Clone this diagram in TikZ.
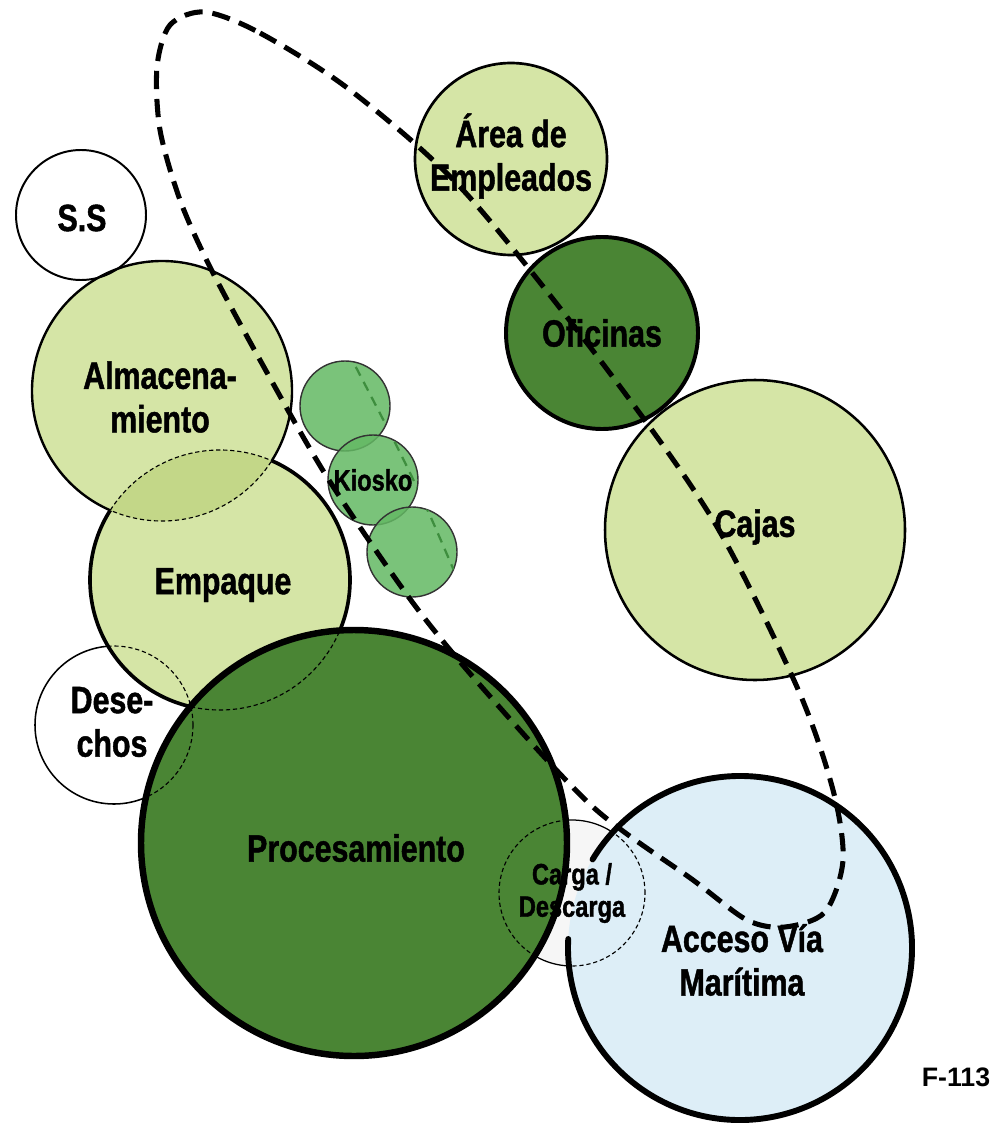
\documentclass[tikz,border=0pt]{standalone}
\usepackage{fontspec}
\setmainfont{Liberation Sans}
\newfontfamily\zonefont[FakeStretch=0.8, FakeBold=1.2]{Liberation Sans}
\definecolor{paleleaf}{HTML}{D5E5A6}
\definecolor{lensleaf}{HTML}{C3D788}
\definecolor{deepleaf}{HTML}{4A8534}
\definecolor{kioskleaf}{HTML}{63B863}
\definecolor{kioskline}{HTML}{3E8E3E}
\definecolor{seawater}{HTML}{DDEEF7}
\begin{document}
\begin{tikzpicture}[x=0.25mm, y=0.25mm,
  zone/.style={font=\zonefont\bfseries\fontsize{27}{31}\selectfont, align=center, inner sep=0pt},
  smallzone/.style={zone, font=\zonefont\bfseries\fontsize{21}{23}\selectfont},
  hidden/.style={line width=0.8pt, dash pattern=on 3pt off 2pt},
  route/.style={line width=3.6pt, dash pattern=on 13pt off 7pt}
]
  \useasboundingbox (0,0) rectangle (999,-1128);

  % centres of the zones
  \coordinate (ss) at (81,-215);
  \coordinate (alm) at (162,-391);
  \coordinate (emp) at (220,-580);
  \coordinate (des) at (114,-725);
  \coordinate (proc) at (354,-843);
  \coordinate (carga) at (572,-893);
  \coordinate (acc) at (740,-948);
  \coordinate (area) at (511,-159);
  \coordinate (ofi) at (602,-333);
  \coordinate (cajas) at (755,-530);
  \coordinate (kioA) at (345,-406);
  \coordinate (kioB) at (373,-480);
  \coordinate (kioC) at (412,-552);

  % fills
  \fill[gray!7] (carga) circle[radius=73];
  \fill[white] (des) circle[radius=79];
  \fill[paleleaf] (alm) circle[radius=130];
  \fill[paleleaf] (emp) circle[radius=130];
  \begin{scope}
    \clip (alm) circle[radius=130];
    \fill[lensleaf] (emp) circle[radius=130];
  \end{scope}
  \fill[deepleaf] (proc) circle[radius=213];
  \fill[seawater] (acc) circle[radius=172];
  \fill[paleleaf] (area) circle[radius=96];
  \fill[deepleaf] (ofi) circle[radius=96];
  \fill[paleleaf] (cajas) circle[radius=150];

  % outlines
  \draw[line width=1.4pt] (ss) circle[radius=65];
  \draw[line width=1.9pt] (area) circle[radius=96];
  \draw[line width=2.8pt] (ofi) circle[radius=96];
  \draw[line width=1.8pt] (cajas) circle[radius=150];

  \begin{scope}[even odd rule]
    \clip (0,0) rectangle (999,-1128) (emp) circle[radius=130];
    \draw[line width=1.7pt] (alm) circle[radius=130];
  \end{scope}
  \begin{scope}
    \clip (emp) circle[radius=130];
    \draw[hidden] (alm) circle[radius=130];
  \end{scope}

  \begin{scope}[even odd rule]
    \clip (0,0) rectangle (999,-1128) (alm) circle[radius=130];
    \clip (0,0) rectangle (999,-1128) (proc) circle[radius=213];
    \draw[line width=2.6pt] (emp) circle[radius=130];
  \end{scope}
  \begin{scope}
    \clip (alm) circle[radius=130] (proc) circle[radius=213];
    \draw[hidden] (emp) circle[radius=130];
  \end{scope}

  \begin{scope}[even odd rule]
    \clip (0,0) rectangle (999,-1128) (emp) circle[radius=130];
    \clip (0,0) rectangle (999,-1128) (proc) circle[radius=213];
    \draw[line width=1.1pt] (des) circle[radius=79];
  \end{scope}
  \begin{scope}
    \clip (emp) circle[radius=130] (proc) circle[radius=213];
    \draw[hidden] (des) circle[radius=79];
  \end{scope}

  \draw[line width=4.6pt] (proc) circle[radius=213];

  \begin{scope}[even odd rule]
    \clip (0,0) rectangle (999,-1128) (proc) circle[radius=213];
    \clip (0,0) rectangle (999,-1128) (acc) circle[radius=172];
    \draw[line width=0.9pt] (carga) circle[radius=73];
  \end{scope}
  \begin{scope}
    \clip (proc) circle[radius=213] (acc) circle[radius=172];
    \draw[hidden] (carga) circle[radius=73];
  \end{scope}

  \draw[line width=4.2pt, line cap=round] (acc) ++(149:172) arc[start angle=149, end angle=-183, radius=172];

  % kiosko
  \foreach \k in {kioA,kioB,kioC}
    \filldraw[fill=kioskleaf, fill opacity=0.85, draw=black!80, line width=1pt] (\k) circle[radius=45];
  \begin{scope}
    \clip (kioA) circle[radius=45] (kioB) circle[radius=45] (kioC) circle[radius=45];
    \draw[kioskline, line width=1.6pt, dash pattern=on 7pt off 5pt]
      plot[smooth] coordinates {(348,-352) (387,-427) (412,-477) (432,-520) (458,-580)};
  \end{scope}

  % labels
  \node[zone] (ssl) at (82,-218) {S.S};
  \node[zone] (alml) at (160,-397) {Almacena-\\miento};
  \node[zone] (empl) at (223,-585) {Empaque};
  \node[zone] (desl) at (112,-722) {Dese-\\chos};
  \node[smallzone] (kiol) at (373,-480) {Kiosko};
  \node[zone] (procl) at (356,-848) {Procesamiento};
  \node[smallzone] (cargal) at (572,-893) {Carga /\\Descarga};
  \node[zone] (areal) at (511,-156) {Área de\\Empleados};
  \node[zone] (ofil) at (602,-333) {Oficinas};
  \node[zone] (cajasl) at (755,-527) {Cajas};
  \node[zone] (accl) at (742,-960) {Acceso Vía\\Marítima};
  \node[font=\bfseries\fontsize{19}{22}\selectfont] (tag) at (956,-1077) {F-113};

  % service route
  \draw[route] plot[smooth cycle] coordinates {(205,-12) (260,-33) (350,-90) (463,-190) (600,-360)
    (713,-520) (797,-687) (833,-790) (843,-860) (825,-912) (785,-927) (747,-920) (693,-880)
    (593,-807) (487,-693) (413,-603) (327,-477) (260,-360) (210,-267) (180,-200) (160,-130)
    (157,-67) (170,-25)};
\end{tikzpicture}
\end{document}
